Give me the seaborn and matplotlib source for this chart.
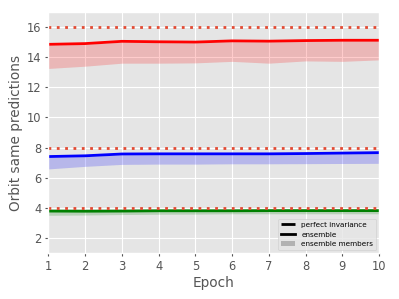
import matplotlib
matplotlib.use("Agg")
import matplotlib.pyplot as plt
import seaborn as sns
import pandas as pd
import numpy as np
from matplotlib.lines import Line2D
from matplotlib.patches import Patch

epochs = [1, 2, 3, 4, 5, 6, 7, 8, 9, 10]

red_ens = [14.85, 14.9, 15.05, 15.02, 15.0, 15.08, 15.06, 15.1, 15.12, 15.12]
red_low = [13.25, 13.4, 13.6, 13.6, 13.62, 13.72, 13.6, 13.75, 13.72, 13.82]
red_high = [14.8, 14.85, 15.0, 14.97, 14.95, 15.03, 15.01, 15.05, 15.07, 15.07]

blue_ens = [7.4, 7.45, 7.57, 7.58, 7.58, 7.58, 7.58, 7.6, 7.63, 7.66]
blue_low = [6.58, 6.75, 6.88, 6.9, 6.9, 6.92, 6.92, 6.93, 6.94, 6.95]
blue_high = [7.35, 7.4, 7.52, 7.53, 7.53, 7.53, 7.53, 7.55, 7.58, 7.61]

green_ens = [3.78, 3.77, 3.78, 3.8, 3.8, 3.8, 3.81, 3.81, 3.81, 3.81]
green_low = [3.5, 3.52, 3.55, 3.57, 3.58, 3.6, 3.6, 3.6, 3.6, 3.6]
green_high = [3.75, 3.74, 3.75, 3.77, 3.77, 3.77, 3.78, 3.78, 3.78, 3.78]

invariance = [16, 8, 4]

plt.style.use("ggplot")
fig, ax = plt.subplots(figsize=(3.99, 2.99), dpi=100)

for ens, lo, hi, col in [(red_ens, red_low, red_high, "red"),
                         (blue_ens, blue_low, blue_high, "blue"),
                         (green_ens, green_low, green_high, "green")]:
    ax.fill_between(epochs, lo, hi, color=col, alpha=0.2, linewidth=0)
    df = pd.DataFrame({"epoch": epochs, "val": ens})
    sns.lineplot(data=df, x="epoch", y="val", color=col, linewidth=2, ax=ax)

for v in invariance:
    ax.axhline(v, color="#E24A33", linestyle=(0, (1, 2)), linewidth=2)

ax.set_xlim(1, 10)
ax.set_ylim(1, 17)
ax.set_xticks(epochs)
ax.set_yticks([2, 4, 6, 8, 10, 12, 14, 16])
ax.set_xlabel("Epoch", fontsize=9.8, color="#555555", labelpad=2)
ax.set_ylabel("Orbit same predictions", fontsize=9.8, color="#555555", labelpad=3)
ax.tick_params(labelsize=8.3, colors="#555555", length=2.5, pad=2.5)

handles = [Line2D([0], [0], color="black", linestyle="-.", linewidth=2),
           Line2D([0], [0], color="black", linestyle="-", linewidth=2),
           Patch(facecolor="gray", alpha=0.5)]
ax.legend(handles, ["perfect invariance", "ensemble", "ensemble members"],
          loc="lower right", fontsize=5.2, borderaxespad=0.4)

fig.subplots_adjust(left=0.1215, right=0.95, top=0.96, bottom=0.154)
fig.savefig("out.png", dpi=100)
